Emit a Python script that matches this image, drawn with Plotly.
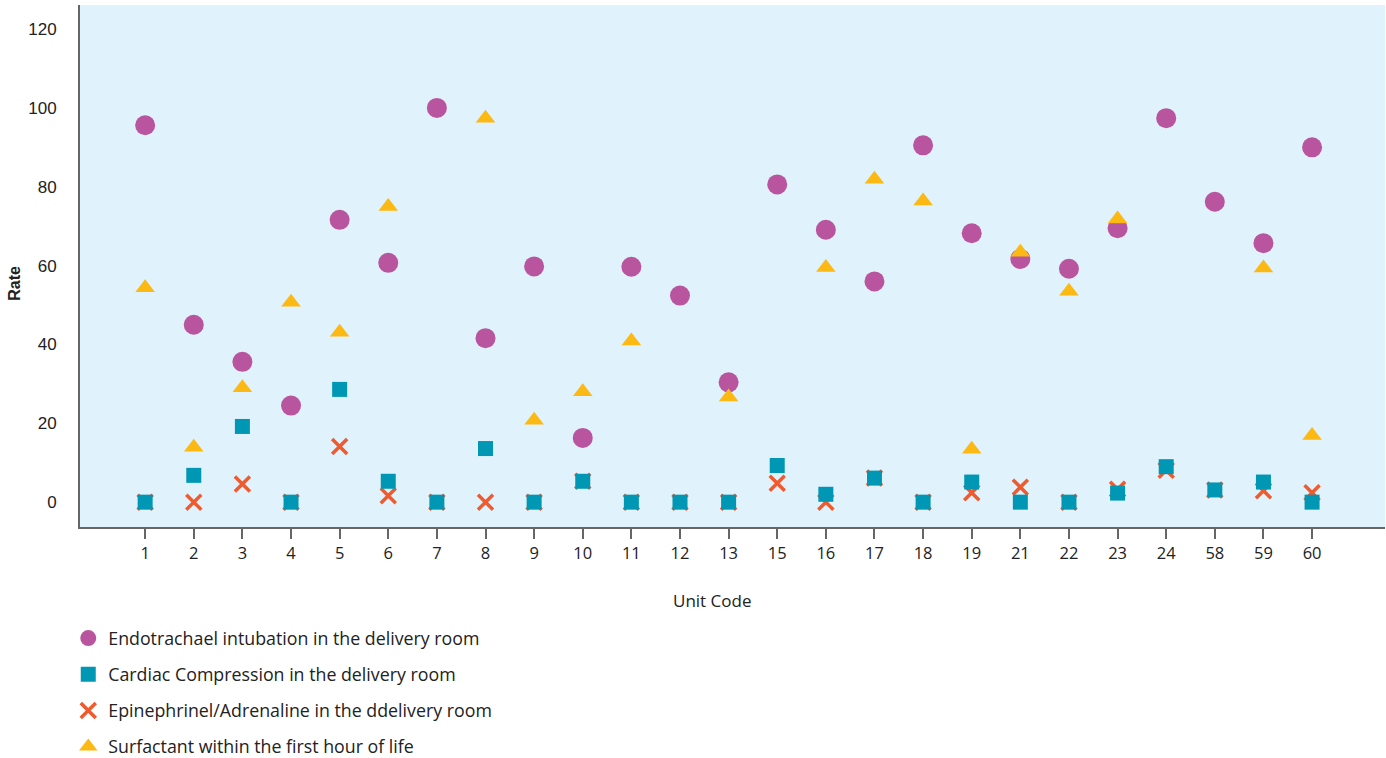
import plotly.graph_objects as go

# unit codes on the x axis
units = ["1", "2", "3", "4", "5", "6", "7", "8", "9", "10", "11", "12", "13",
         "15", "16", "17", "18", "19", "21", "22", "23", "24", "58", "59", "60"]

# rates per unit (None = not reported)
intubation = [95.6, 45.0, 35.6, 24.5, 71.6, 60.7, 100.0, 41.6, 59.8, 16.3, 59.7, 52.4, 30.4,
              80.6, 69.1, 56.0, 90.5, 68.2, 61.7, 59.2, 69.5, 97.4, 76.2, 65.7, 90.0]
compression = [0, 6.8, 19.2, 0, 28.6, 5.3, 0, 13.6, 0, 5.3, 0, 0, 0,
               9.3, 2.0, 6.1, 0, 5.1, 0, 0, 2.3, 9.0, 3.1, 5.1, 0]
epinephrine = [0, 0, 4.6, 0, 14.1, 1.6, 0, 0, 0, 5.3, 0, 0, 0,
               4.8, 0, 6.1, 0, 2.4, 3.8, 0, 3.3, 8.1, 3.1, 2.9, 2.4]
surfactant = [54.4, 13.9, 29.0, 50.7, 43.1, 75.0, None, 97.4, 20.8, 28.0, 40.9, None, 26.7,
              None, 59.5, 81.9, 76.4, 13.4, 63.4, 53.5, 71.8, None, None, 59.4, 16.9]

font = "Open Sans, Arial, sans-serif"
font_y = "Liberation Sans, Arial, sans-serif"

fig = go.Figure()

fig.add_trace(go.Scatter(
    x=units, y=intubation, mode="markers",
    name="Endotrachael intubation in the delivery room",
    legendgroup="a", legendrank=1,
    marker=dict(symbol="circle", size=20, color="#B9559E"),
))
fig.add_trace(go.Scatter(
    x=units, y=epinephrine, mode="markers",
    name="Epinephrinel/Adrenaline in the ddelivery room",
    legendgroup="c", legendrank=3,
    marker=dict(symbol="x-thin-open", size=15, color="#EF5A2E",
                line=dict(width=3.5, color="#EF5A2E")),
))
fig.add_trace(go.Scatter(
    x=units, y=compression, mode="markers",
    name="Cardiac Compression in the delivery room",
    legendgroup="b", legendrank=2,
    marker=dict(symbol="square", size=15, color="#0097B5"),
))
fig.add_trace(go.Scatter(
    x=units, y=surfactant, mode="markers",
    name="Surfactant within the first hour of life",
    legendgroup="d", legendrank=4,
    marker=dict(symbol="triangle-up", size=17, color="#FDB913"),
))

fig.add_annotation(text="<b>Rate</b>", textangle=-90, x=-0.0502, y=0.467,
                   xref="paper", yref="paper", showarrow=False,
                   xanchor="center", yanchor="middle",
                   font=dict(size=16, color="#222", family=font_y))
fig.add_annotation(text="Unit Code", x=0.484, y=-0.14,
                   xref="paper", yref="paper", showarrow=False,
                   xanchor="center", yanchor="middle",
                   font=dict(size=17, color="#222", family=font))

fig.update_layout(
    width=1386, height=758,
    margin=dict(l=80, r=1, t=5, b=231),
    paper_bgcolor="white",
    plot_bgcolor="#E0F2FB",
    font=dict(family=font, color="#222"),
    showlegend=True,
    legend=dict(orientation="v", x=-0.009, xanchor="left",
                yref="container", y=0.182, yanchor="top",
                traceorder="grouped", tracegroupgap=10,
                font=dict(size=17.8, color="#222", family=font),
                bgcolor="rgba(0,0,0,0)"),
    xaxis=dict(type="category", range=[-1.34, 25.5], showgrid=False, zeroline=False,
               showline=True, linecolor="#666", linewidth=2,
               ticks="outside", ticklen=10, tickcolor="#666", tickwidth=1.5,
               tickfont=dict(size=16.5, color="#222")),
    yaxis=dict(range=[-6.3, 126.1], tickvals=[0, 20, 40, 60, 80, 100, 120],
               showgrid=False, zeroline=False,
               showline=True, linecolor="#666", linewidth=2,
               ticks="", ticklabelstandoff=18,
               tickfont=dict(size=17, color="#222", family=font_y)),
)

fig.write_html("out.html", config={"displayModeBar": False},
               post_script="document.body.style.margin='0';")
